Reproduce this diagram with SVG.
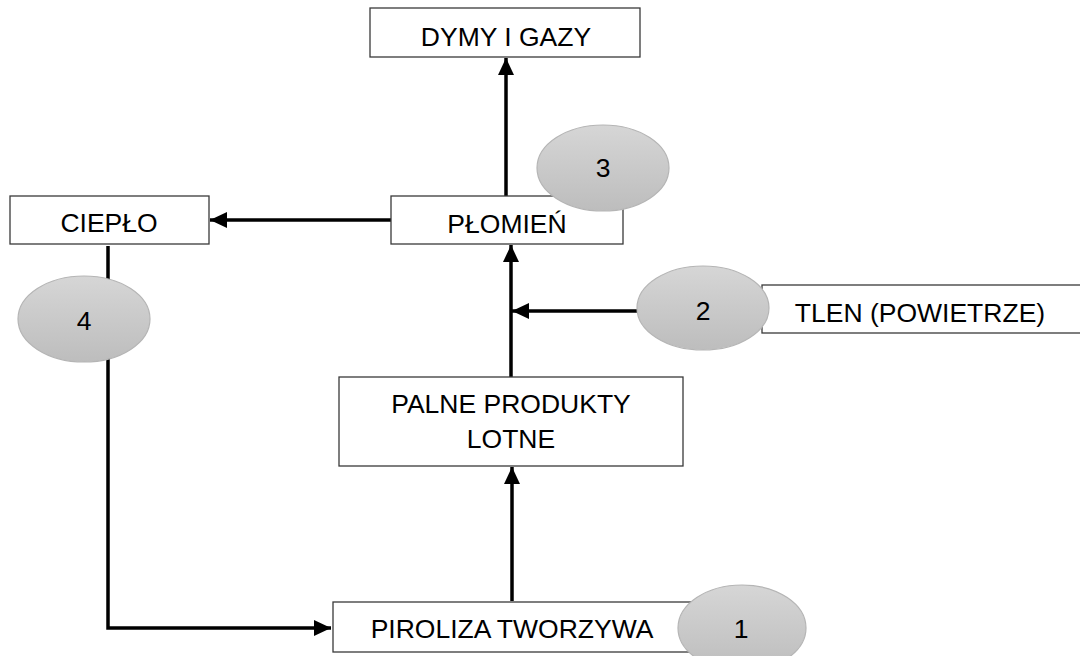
<svg xmlns="http://www.w3.org/2000/svg" width="1080" height="656" viewBox="0 0 1080 656">
  <style>
    .box { fill: #ffffff; stroke: #3a3a3a; stroke-width: 1.3; }
    .lbl { font-family: "Liberation Sans", Arial, sans-serif; font-size: 26.5px; fill: #000000; text-anchor: middle; }
    .conn { fill: none; stroke: #000000; stroke-width: 3.5; }
    .badge { fill: url(#grey); stroke: #b5b5b5; stroke-width: 1.2; }
  </style>
  <defs>
    <linearGradient id="grey" x1="0" y1="0" x2="0" y2="1">
      <stop offset="0" stop-color="#d6d6d6"/>
      <stop offset="1" stop-color="#bdbdbd"/>
    </linearGradient>
    <marker id="arr" markerUnits="userSpaceOnUse" markerWidth="18" markerHeight="16" refX="17" refY="8" orient="auto">
      <path d="M0,0 L17,8 L0,16 Z" fill="#000000"/>
    </marker>
  </defs>
  <rect width="1080" height="656" fill="#ffffff"/>

  <g id="connectors">
    <line class="conn" x1="506" y1="196" x2="506" y2="58" marker-end="url(#arr)"/>
    <line class="conn" x1="391" y1="220" x2="210" y2="220" marker-end="url(#arr)"/>
    <line class="conn" x1="511" y1="377" x2="511" y2="245" marker-end="url(#arr)"/>
    <line class="conn" x1="637" y1="311" x2="512" y2="311" marker-end="url(#arr)"/>
    <line class="conn" x1="512" y1="601" x2="512" y2="467" marker-end="url(#arr)"/>
    <polyline class="conn" points="108,246 108,628 331,628" marker-end="url(#arr)"/>
  </g>

  <g id="dymy">
    <rect class="box" x="370" y="8" width="270" height="49"/>
    <text class="lbl" x="506" y="46">DYMY I GAZY</text>
  </g>

  <g id="cieplo">
    <rect class="box" x="10" y="196" width="199" height="48"/>
    <text class="lbl" x="109" y="232">CIEPŁO</text>
  </g>

  <g id="plomien">
    <rect class="box" x="391" y="196" width="232" height="48"/>
    <text class="lbl" x="507" y="233">PŁOMIEŃ</text>
  </g>

  <g id="tlen">
    <rect class="box" x="762" y="285" width="330" height="48"/>
    <text class="lbl" x="920" y="322">TLEN (POWIETRZE)</text>
  </g>

  <g id="palne">
    <rect class="box" x="339" y="377" width="344" height="89"/>
    <text class="lbl" x="511" y="413">PALNE PRODUKTY</text>
    <text class="lbl" x="511" y="448">LOTNE</text>
  </g>

  <g id="piroliza">
    <rect class="box" x="333" y="602" width="360" height="50"/>
    <text class="lbl" x="512" y="638">PIROLIZA TWORZYWA</text>
  </g>

  <g id="badge3">
    <ellipse class="badge" cx="603" cy="168" rx="66" ry="43"/>
    <text class="lbl" x="603" y="177">3</text>
  </g>

  <g id="badge4">
    <ellipse class="badge" cx="84" cy="319" rx="66" ry="43"/>
    <text class="lbl" x="84" y="330">4</text>
  </g>

  <g id="badge2">
    <ellipse class="badge" cx="703" cy="308" rx="66" ry="42"/>
    <text class="lbl" x="703" y="320">2</text>
  </g>

  <g id="badge1">
    <ellipse class="badge" cx="742" cy="628" rx="64" ry="43"/>
    <text class="lbl" x="741" y="638">1</text>
  </g>
</svg>
